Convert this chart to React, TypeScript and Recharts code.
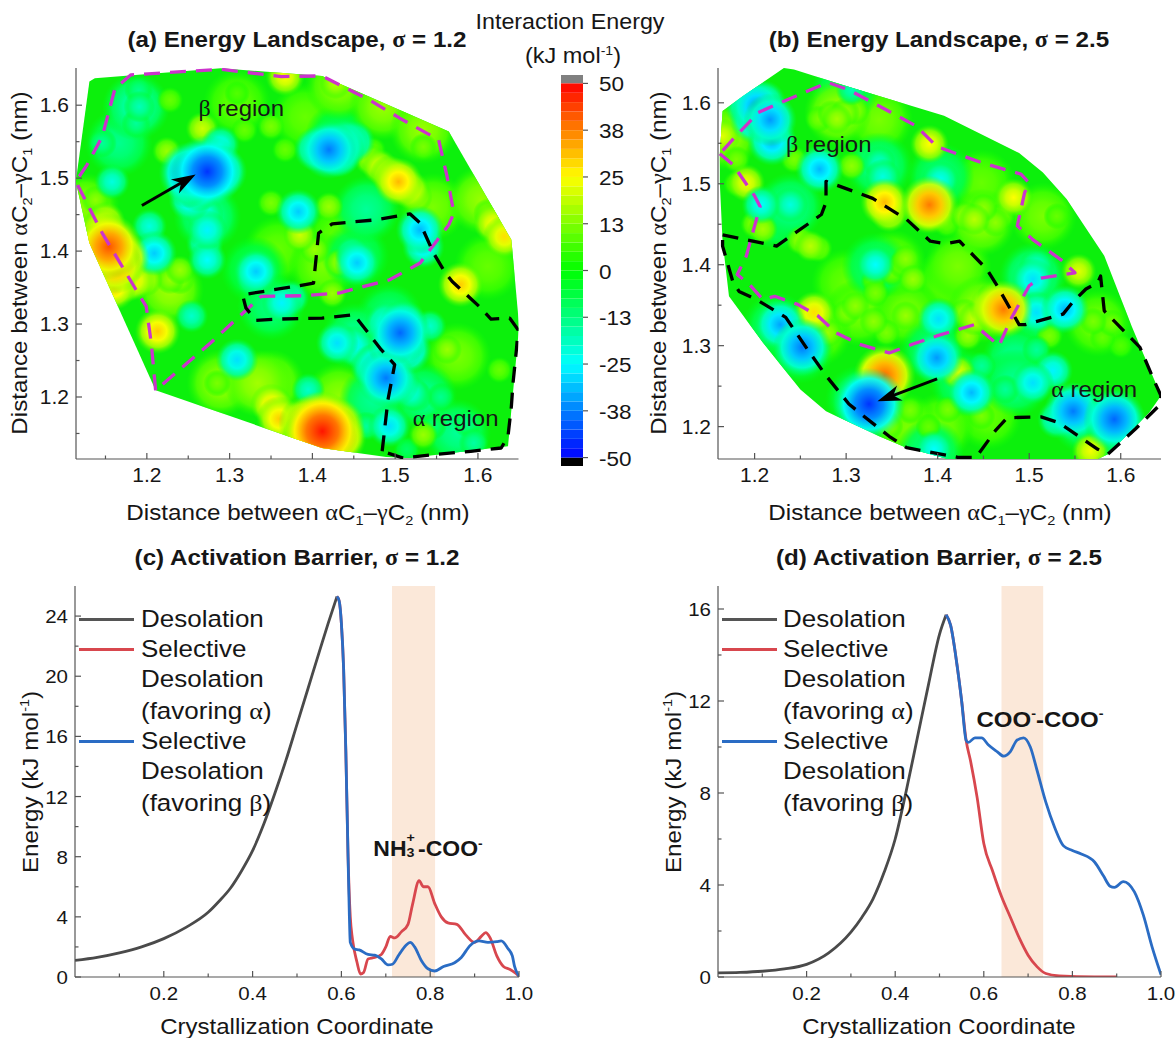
import React from 'react';
import {
  ComposedChart, ScatterChart, Scatter, Line, XAxis, YAxis, ReferenceArea, ReferenceDot,
} from 'recharts';

type P = number[];

// ---- panel (a) contour map: [x, y] or [x, y, energy]
const hullA: P[] = [[1.1306,1.6324],[1.1371,1.637],[1.2891,1.6507],[1.4116,1.6402],[1.5648,1.5639],[1.6404,1.4155],[1.6498,1.2968],[1.6363,1.1324],[1.5178,1.1164],[1.4892,1.1178],[1.4116,1.1301],[1.2106,1.2091],[1.1306,1.411],[1.1142,1.4954],[1.1306,1.6324]];
const betaPathA: P[] = [[1.2106,1.2091],[1.2053,1.274],[1.1992,1.3242],[1.1869,1.347],[1.1461,1.4247],[1.1142,1.4954],[1.1277,1.5183],[1.1461,1.5571],[1.1616,1.6233],[1.1808,1.6416],[1.2891,1.6493],[1.3626,1.6393],[1.4116,1.6402],[1.4688,1.6073],[1.5056,1.5822],[1.5525,1.5525],[1.5627,1.5023],[1.5709,1.4521],[1.5648,1.4361],[1.5301,1.3836],[1.4933,1.3607],[1.432,1.3425],[1.3871,1.3388],[1.3381,1.3379],[1.2768,1.274],[1.2278,1.226],[1.2106,1.2091]];
const alphaPathA: P[] = [[1.4843,1.1256],[1.4913,1.1963],[1.4994,1.2443],[1.4831,1.2648],[1.4504,1.3128],[1.4116,1.3082],[1.3585,1.3068],[1.3319,1.305],[1.3197,1.3219],[1.3156,1.3402],[1.3789,1.3516],[1.4014,1.3562],[1.4075,1.4247],[1.4239,1.4374],[1.477,1.4429],[1.5178,1.4511],[1.5301,1.4384],[1.5464,1.3973],[1.5607,1.3699],[1.5689,1.3584],[1.6015,1.3242],[1.6158,1.3068],[1.6383,1.3082],[1.6485,1.2922],[1.6465,1.2648],[1.6424,1.2192],[1.6404,1.1872],[1.6363,1.1461],[1.6281,1.1301],[1.5913,1.1256],[1.5464,1.121],[1.5096,1.1164],[1.4843,1.1256]];
const arrowA: P[] = [[1.194,1.4626],[1.259,1.505]];
const washA: P[] = [[1.432,1.626,14],[1.485,1.598,15],[1.534,1.566,15],[1.546,1.461,12],[1.604,1.47,15],[1.612,1.379,10],[1.334,1.219,16],[1.289,1.219,15],[1.432,1.201,14],[1.35,1.219,14],[1.126,1.461,14],[1.228,1.347,16],[1.391,1.584,10],[1.309,1.603,10],[1.412,1.379,12],[1.575,1.256,12],[1.358,1.402,10],[1.432,1.42,10],[1.187,1.598,-18],[1.166,1.548,-14],[1.273,1.447,-16],[1.465,1.457,-15],[1.534,1.201,-15],[1.473,1.196,-15],[1.575,1.151,-15],[1.452,1.283,-15],[1.493,1.31,-13],[1.35,1.324,-13],[1.33,1.374,-10],[1.452,1.393,-12],[1.432,1.557,-10]];
const wellsA: P[] = [[1.273,1.509,-45],[1.252,1.507,-40],[1.289,1.509,-35],[1.262,1.485,-30],[1.25,1.49,-30],[1.252,1.47,-28],[1.27,1.45,-24],[1.273,1.429,-26],[1.27,1.41,-24],[1.273,1.388,-25],[1.289,1.546,-25],[1.42,1.539,-38],[1.405,1.54,-30],[1.43,1.54,-36],[1.44,1.55,-30],[1.45,1.55,-28],[1.432,1.53,-28],[1.158,1.495,-22],[1.203,1.434,-22],[1.209,1.397,-30],[1.383,1.454,-30],[1.332,1.372,-30],[1.328,1.361,-22],[1.363,1.329,-26],[1.375,1.336,-22],[1.454,1.384,-30],[1.448,1.397,-22],[1.53,1.429,-32],[1.534,1.406,-28],[1.254,1.311,-20],[1.309,1.251,-28],[1.43,1.274,-28],[1.506,1.288,-40],[1.51,1.3,-32],[1.49,1.3,-30],[1.5,1.27,-36],[1.514,1.265,-33],[1.473,1.242,-30],[1.48,1.24,-34],[1.489,1.226,-38],[1.5,1.22,-32],[1.52,1.205,-22],[1.555,1.2,-14],[1.457,1.265,-25],[1.45,1.27,-26],[1.542,1.297,-20],[1.493,1.16,-28],[1.526,1.201,-18],[1.395,1.21,-20],[1.546,1.16,-12],[1.587,1.164,-14],[1.595,1.137,-16],[1.191,1.598,-18],[1.19,1.62,-14],[1.187,1.575,-15],[1.146,1.548,-15],[1.465,1.16,-15],[1.514,1.128,-10]];
const hillsA: P[] = [[1.493,1.505,25],[1.504,1.495,32],[1.518,1.484,25],[1.481,1.516,22],[1.47,1.525,18],[1.525,1.475,20],[1.154,1.406,42],[1.14,1.4,35],[1.17,1.39,36],[1.162,1.379,36],[1.16,1.35,30],[1.146,1.425,32],[1.15,1.44,26],[1.175,1.356,25],[1.185,1.36,26],[1.199,1.361,20],[1.228,1.361,15],[1.24,1.36,14],[1.412,1.153,48],[1.41,1.16,44],[1.428,1.16,38],[1.43,1.145,38],[1.379,1.164,28],[1.39,1.165,34],[1.354,1.187,25],[1.35,1.19,27],[1.36,1.17,30],[1.44,1.146,25],[1.399,1.146,38],[1.579,1.354,30],[1.213,1.29,30],[1.267,1.568,20],[1.224,1.537,15],[1.385,1.422,20],[1.403,1.402,15],[1.618,1.438,25],[1.632,1.42,28],[1.612,1.452,15],[1.367,1.639,25],[1.428,1.63,18],[1.42,1.461,15],[1.35,1.466,12],[1.285,1.219,12],[1.563,1.265,15],[1.534,1.148,15],[1.432,1.384,15],[1.24,1.374,15],[1.138,1.47,14],[1.626,1.237,10],[1.424,1.342,15],[1.35,1.571,12],[1.367,1.539,10],[1.318,1.566,10],[1.534,1.543,12],[1.595,1.539,10],[1.473,1.539,10],[1.228,1.607,10],[1.309,1.616,8]];

// ---- panel (b) contour map
const hullB: P[] = [[1.165,1.59],[1.187,1.608],[1.232,1.643],[1.243,1.641],[1.299,1.621],[1.407,1.584],[1.489,1.538],[1.515,1.514],[1.541,1.481],[1.582,1.411],[1.612,1.324],[1.644,1.238],[1.631,1.217],[1.586,1.166],[1.575,1.16],[1.411,1.16],[1.366,1.174],[1.336,1.188],[1.278,1.219],[1.25,1.246],[1.209,1.304],[1.172,1.361],[1.165,1.429],[1.162,1.501],[1.162,1.537],[1.165,1.59]];
const betaPathB: P[] = [[1.162,1.537],[1.176,1.524],[1.2,1.485],[1.206,1.472],[1.2,1.448],[1.191,1.411],[1.181,1.388],[1.194,1.376],[1.209,1.357],[1.222,1.361],[1.247,1.351],[1.269,1.337],[1.289,1.316],[1.314,1.302],[1.347,1.291],[1.373,1.302],[1.399,1.312],[1.44,1.326],[1.467,1.3],[1.48,1.333],[1.5,1.374],[1.511,1.383],[1.532,1.387],[1.55,1.39],[1.536,1.405],[1.504,1.431],[1.487,1.448],[1.495,1.489],[1.5,1.501],[1.491,1.512],[1.448,1.526],[1.399,1.546],[1.377,1.571],[1.336,1.596],[1.303,1.616],[1.28,1.625],[1.267,1.619],[1.232,1.602],[1.204,1.588],[1.178,1.557],[1.162,1.537]];
const alphaPathB: P[] = [[1.165,1.437],[1.224,1.423],[1.273,1.462],[1.278,1.477],[1.278,1.503],[1.329,1.482],[1.366,1.456],[1.392,1.429],[1.409,1.426],[1.424,1.429],[1.454,1.394],[1.465,1.374],[1.489,1.326],[1.496,1.326],[1.537,1.339],[1.547,1.353],[1.562,1.37],[1.575,1.378],[1.578,1.386],[1.582,1.343],[1.621,1.298],[1.636,1.258],[1.644,1.238],[1.642,1.226],[1.616,1.197],[1.586,1.166],[1.575,1.172],[1.532,1.205],[1.513,1.212],[1.476,1.211],[1.463,1.195],[1.442,1.162],[1.422,1.162],[1.366,1.174],[1.347,1.188],[1.317,1.215],[1.303,1.228],[1.278,1.263],[1.258,1.295],[1.234,1.335],[1.202,1.357],[1.183,1.367],[1.176,1.38],[1.165,1.423],[1.165,1.437]];
const arrowB: P[] = [[1.3994,1.2589],[1.3342,1.2312]];
const washB: P[] = [[1.291,1.588,16],[1.336,1.579,12],[1.448,1.452,14],[1.515,1.46,12],[1.314,1.341,12],[1.366,1.341,12],[1.351,1.402,12],[1.448,1.345,16],[1.575,1.328,12],[1.455,1.213,10],[1.403,1.2,12],[1.366,1.2,12],[1.448,1.501,10],[1.168,1.559,16],[1.299,1.378,10],[1.269,1.316,12],[1.422,1.398,12],[1.411,1.378,10],[1.504,1.386,-17],[1.511,1.341,-15],[1.336,1.522,-15],[1.403,1.509,-13],[1.239,1.472,-15],[1.224,1.46,-13],[1.299,1.616,-13],[1.485,1.283,-15],[1.485,1.254,-15],[1.429,1.254,-13],[1.396,1.295,-13],[1.56,1.209,-15],[1.597,1.193,-15],[1.224,1.324,-13],[1.25,1.295,-13],[1.332,1.398,-13],[1.392,1.168,-15],[1.314,1.234,-13]];
const wellsB: P[] = [[1.202,1.596,-35],[1.21,1.6,-30],[1.2,1.58,-33],[1.217,1.579,-35],[1.219,1.553,-33],[1.194,1.596,-32],[1.271,1.518,-32],[1.336,1.526,-20],[1.34,1.509,-22],[1.403,1.505,-24],[1.207,1.474,-25],[1.239,1.474,-22],[1.332,1.4,-25],[1.508,1.398,-22],[1.504,1.382,-28],[1.508,1.341,-28],[1.539,1.345,-32],[1.401,1.333,-28],[1.228,1.326,-34],[1.252,1.298,-38],[1.399,1.285,-35],[1.325,1.228,-45],[1.437,1.242,-32],[1.504,1.254,-28],[1.526,1.269,-26],[1.548,1.219,-38],[1.593,1.209,-40],[1.53,1.209,-25],[1.396,1.172,-25],[1.474,1.246,-15],[1.306,1.616,-18],[1.448,1.275,-15],[1.508,1.295,-15]];
const hillsB: P[] = [[1.342,1.477,32],[1.347,1.464,25],[1.391,1.474,38],[1.39,1.464,25],[1.483,1.483,25],[1.472,1.345,38],[1.459,1.347,30],[1.342,1.263,40],[1.333,1.267,25],[1.265,1.341,28],[1.191,1.501,24],[1.391,1.549,25],[1.554,1.392,22],[1.567,1.17,24],[1.165,1.559,22],[1.422,1.267,22],[1.299,1.588,15],[1.284,1.586,14],[1.261,1.423,18],[1.44,1.456,18],[1.463,1.452,14],[1.306,1.522,14],[1.243,1.53,12],[1.209,1.444,16],[1.365,1.337,15],[1.31,1.349,14],[1.44,1.333,20],[1.433,1.312,15],[1.373,1.382,15],[1.365,1.407,14],[1.332,1.365,12],[1.448,1.213,12],[1.59,1.328,12],[1.522,1.312,12],[1.28,1.316,15],[1.347,1.201,14],[1.411,1.221,12],[1.53,1.46,10],[1.344,1.316,12],[1.29,1.58,16],[1.31,1.59,14],[1.27,1.58,12],[1.43,1.46,16],[1.45,1.47,14],[1.47,1.46,12],[1.41,1.45,10],[1.25,1.43,15],[1.27,1.42,13],[1.36,1.4,12],[1.35,1.39,11],[1.33,1.38,10],[1.33,1.33,14],[1.3,1.34,13],[1.43,1.34,16],[1.45,1.33,15],[1.46,1.36,18],[1.37,1.22,12],[1.39,1.2,10],[1.57,1.33,12],[1.58,1.31,10],[1.6,1.3,8],[1.2,1.45,14],[1.18,1.53,12],[1.18,1.5,10]];

// ---- panels (c) and (d) barrier curves: [coordinate, energy]
const desolationC: P[] = [[0,1.1],[0.05,1.3],[0.1,1.6],[0.15,2],[0.2,2.55],[0.25,3.3],[0.3,4.3],[0.325,5.05],[0.35,5.9],[0.375,7.05],[0.4,8.4],[0.425,10.15],[0.45,12.2],[0.475,14.4],[0.5,16.8],[0.525,19.2],[0.55,21.6],[0.57,23.5],[0.59,25.3]];
const alphaC: P[] = [[0.59,25.3],[0.595,25],[0.6,23.5],[0.605,20.5],[0.61,15],[0.615,8],[0.62,4],[0.625,2.5],[0.635,1],[0.643,0.2],[0.65,0.3],[0.66,1.2],[0.675,1.3],[0.69,1.5],[0.7,2],[0.71,2.7],[0.72,2.6],[0.735,3],[0.75,3.5],[0.76,4.8],[0.775,6.4],[0.785,6],[0.795,6],[0.81,4.9],[0.825,4],[0.84,3.6],[0.86,3.5],[0.88,2.8],[0.9,2.3],[0.915,2.7],[0.925,2.95],[0.935,2.6],[0.95,1.4],[0.965,0.7],[0.98,0.5],[0.99,0.3],[1,0.05]];
const betaC: P[] = [[0.59,25.3],[0.595,25],[0.6,23.5],[0.605,20.5],[0.61,15],[0.615,8],[0.618,4],[0.62,2.3],[0.63,1.85],[0.64,1.8],[0.66,1.5],[0.675,1.45],[0.69,1.2],[0.705,0.8],[0.715,0.85],[0.73,1.5],[0.745,2.1],[0.755,2.3],[0.765,2],[0.78,1.1],[0.795,0.55],[0.81,0.4],[0.83,0.7],[0.855,0.95],[0.87,1.3],[0.89,2.1],[0.91,2.4],[0.93,2.3],[0.95,2.35],[0.96,2.4],[0.975,1.9],[0.985,1.4],[0.99,0.7],[1,0.05]];
const desolationD: P[] = [[0,0.18],[0.05,0.2],[0.1,0.25],[0.15,0.35],[0.2,0.55],[0.25,1.05],[0.3,1.95],[0.325,2.6],[0.35,3.4],[0.375,4.55],[0.4,6],[0.425,8.1],[0.45,10.4],[0.475,12.7],[0.5,14.9],[0.515,15.75]];
const alphaD: P[] = [[0.515,15.75],[0.525,15.3],[0.54,13.5],[0.55,12],[0.56,10.3],[0.57,9.4],[0.585,7.8],[0.6,5.8],[0.62,4.6],[0.64,3.5],[0.66,2.6],[0.68,1.7],[0.7,0.95],[0.72,0.45],[0.74,0.15],[0.77,0.05],[0.85,0],[0.9,0]];
const betaD: P[] = [[0.515,15.75],[0.525,15.3],[0.54,13.5],[0.55,12],[0.56,10.3],[0.565,10.2],[0.58,10.4],[0.595,10.4],[0.61,10.1],[0.63,9.8],[0.645,9.6],[0.66,9.8],[0.675,10.3],[0.69,10.4],[0.705,10],[0.72,9],[0.74,7.6],[0.76,6.5],[0.78,5.7],[0.8,5.5],[0.82,5.35],[0.85,5],[0.87,4.4],[0.885,3.95],[0.895,3.9],[0.915,4.15],[0.94,3.7],[0.96,2.7],[0.98,1.3],[1,0.1]];

const bandC = [0.714, 0.811];
const bandD = [0.64, 0.734];

// ---- ticks
const mapTicksAX = [1.15, 1.2, 1.25, 1.3, 1.35, 1.4, 1.45, 1.5, 1.55, 1.6];
const mapTicksBX = [1.2, 1.25, 1.3, 1.35, 1.4, 1.45, 1.5, 1.55, 1.6];
const mapTicksAY = [1.15, 1.2, 1.25, 1.3, 1.35, 1.4, 1.45, 1.5, 1.55, 1.6];
const mapTicksBY = [1.2, 1.25, 1.3, 1.35, 1.4, 1.45, 1.5, 1.55, 1.6];
const coordTicks = [0.1, 0.2, 0.3, 0.4, 0.5, 0.6, 0.7, 0.8, 0.9, 1];
const energyTicksC = [0, 2, 4, 6, 8, 10, 12, 14, 16, 18, 20, 22, 24];
const energyTicksD = [0, 2, 4, 6, 8, 10, 12, 14, 16];
const colorTicks = [-50, -37.5, -25, -12.5, 0, 12.5, 25, 37.5, 50];
const colorLabels = ['-50', '-38', '-25', '-13', '0', '13', '25', '38', '50'];
const colorLevels = [-50,-47.5,-45,-42.5,-40,-37.5,-35,-32.5,-30,-27.5,-25,-22.5,-20,-17.5,-15,-12.5,-10,-7.5,-5,-2.5,0,2.5,5,7.5,10,12.5,15,17.5,20,22.5,25,27.5,30,32.5,35,37.5,40,42.5,45,47.5];
const colorRange = [{ x: 0, y: -50 }, { x: 1, y: 50 }];

const FONT = '"Liberation Sans", Arial, sans-serif';
const FRAME = '#555555';
const TEXT = '#161616';
const MAGENTA = '#cc33cc';
const STRETCH = 1.08; // the source image is slightly wider than tall

const anchors: [number, number[]][] = [
  [-50, [0, 0, 255]], [-25, [0, 255, 255]], [0, [0, 255, 0]], [25, [255, 255, 0]], [50, [255, 0, 0]],
];
function energyColor(e: number) {
  const v = Math.max(-50, Math.min(50, e));
  for (let i = 0; i < anchors.length - 1; i++) {
    const [a, ca] = anchors[i];
    const [b, cb] = anchors[i + 1];
    if (v <= b) {
      const t = (v - a) / (b - a);
      return `rgb(${ca.map((c, k) => Math.round(c + (cb[k] - c) * t)).join(',')})`;
    }
  }
  return 'rgb(255,0,0)';
}

const toXY = (pts: P[]) => pts.map(([x, y]) => ({ x, y }));
const toBlobs = (pts: P[]) =>
  pts.map(([x, y, e]) => ({ x, y, e })).sort((a, b) => Math.abs(a.e) - Math.abs(b.e));

const Greek = ({ children }: any) => <span style={{ fontFamily: '"Liberation Serif", serif' }}>{children}</span>;
const Sub = ({ children }: any) => <sub style={{ fontSize: '.6em', lineHeight: 0 }}>{children}</sub>;
const Sup = ({ children }: any) => <sup style={{ fontSize: '.6em', lineHeight: 0 }}>{children}</sup>;

function Label({ x, y, size = 24, bold, rotate, align = 'center', children }: any) {
  const tx = align === 'center' ? '-50%' : '0';
  return (
    <div
      style={{
        position: 'absolute', left: x, top: y, fontSize: size / STRETCH, fontFamily: FONT, color: TEXT,
        fontWeight: bold ? 700 : 400, whiteSpace: 'nowrap', lineHeight: 1.2, transformOrigin: align === 'center' ? '50% 50%' : '0 50%',
        transform: `translate(${tx},-50%)${rotate ? ' rotate(-90deg)' : ''} scaleX(${STRETCH})`,
      }}
    >
      {children}
    </div>
  );
}

const TickText = ({ x, y, anchor, size, children }: any) => (
  <text transform={`translate(${x},${y}) scale(${STRETCH},1)`} textAnchor={anchor} fontSize={size / STRETCH} fontFamily={FONT} fill={TEXT}>
    {children}
  </text>
);

// tick drawn by hand so majors and minors can differ; all marks point inward
const makeTick = (side: string, isMajor: (v: number) => boolean, fmt?: (v: number) => string, size = 21) =>
  (props: any) => {
    const { x, y, payload } = props;
    const major = isMajor(payload.value);
    const len = major ? 6 : 3.5;
    const dx = side === 'left' ? len : side === 'right' ? -len : 0;
    const dy = side === 'bottom' ? -len : side === 'top' ? len : 0;
    return (
      <g>
        <line x1={x} y1={y} x2={x + dx} y2={y + dy} stroke={FRAME} strokeWidth={1.2} />
        {major && fmt && side === 'bottom' && <TickText x={x} y={y + 23} anchor="middle" size={size}>{fmt(payload.value)}</TickText>}
        {major && fmt && side === 'left' && <TickText x={x - 7} y={y + size * 0.34} anchor="end" size={size}>{fmt(payload.value)}</TickText>}
      </g>
    );
  };

const LEFT_GUTTER = 62;
const BOTTOM_GUTTER = 36;
const TOP_PAD = 6;
const RIGHT_PAD = 30;

const shapeNone = () => <g />;

function dashLine(color: string) {
  return (props: any) => {
    const d = props.points.map((p: any, i: number) => `${i ? 'L' : 'M'}${p.x},${p.y}`).join(' ');
    return <path d={d} fill="none" stroke={color} strokeWidth={3.3} strokeDasharray="16 10" strokeLinejoin="round" />;
  };
}

const arrowLine = (props: any) => {
  const [a, b] = props.points;
  const ang = Math.atan2(b.y - a.y, b.x - a.x);
  const at = (back: number, side: number) =>
    `${b.x - back * Math.cos(ang) - side * Math.sin(ang)},${b.y - back * Math.sin(ang) + side * Math.cos(ang)}`;
  return (
    <g>
      <line x1={a.x} y1={a.y} x2={at(10, 0).split(',')[0]} y2={at(10, 0).split(',')[1]} stroke="#000" strokeWidth={3} />
      <polygon points={`${b.x},${b.y} ${at(24, 8)} ${at(17, 0)} ${at(24, -8)}`} fill="#000" />
    </g>
  );
};

function MapPanel({ id, frame, xDomain, yDomain, xTicks, yTicks, hull, betaPath, alphaPath, arrow, wash, wells, hills, beta, alpha }: any) {
  const [l, t, r, b] = frame;
  const blobs = toBlobs([...hills, ...wells]);
  const hullLine = (props: any) => {
    const pts = props.points.map((p: any) => `${p.x},${p.y}`).join(' ');
    return (
      <g>
        <defs><clipPath id={`hull-${id}`}><polygon points={pts} /></clipPath></defs>
        <polygon points={pts} fill="#0cf00c" />
      </g>
    );
  };
  const blobShape = (radius: (e: number) => number, tag: string) => (props: any) => {
    const { cx, cy, payload } = props;
    const e = payload.e;
    const gid = `g-${id}-${tag}-${String(e).replace('-', 'm')}`;
    return (
      <g clipPath={`url(#hull-${id})`}>
        <defs>
          <radialGradient id={gid}>
            <stop offset="0%" stopColor={energyColor(e)} />
            <stop offset="40%" stopColor={energyColor(e * 0.8)} />
            <stop offset="70%" stopColor={energyColor(e * 0.55)} stopOpacity={0.9} />
            <stop offset="100%" stopColor={energyColor(e * 0.2)} stopOpacity={0} />
          </radialGradient>
        </defs>
        <circle cx={cx} cy={cy} r={radius(e)} fill={`url(#${gid})`} />
      </g>
    );
  };
  const regionText = (g: string) => (props: any) => (
    <TickText x={props.cx} y={props.cy + 8} anchor="middle" size={24}>
      <tspan fontFamily='"Liberation Serif", serif'>{g}</tspan> region
    </TickText>
  );
  return (
    <div style={{ position: 'absolute', left: l - LEFT_GUTTER, top: t - TOP_PAD }}>
      <ScatterChart
        width={r - l + LEFT_GUTTER + RIGHT_PAD}
        height={b - t + BOTTOM_GUTTER + TOP_PAD}
        margin={{ top: TOP_PAD, right: RIGHT_PAD, left: 0, bottom: 0 }}
      >
        <XAxis dataKey="x" type="number" domain={xDomain} allowDataOverflow ticks={xTicks} interval={0} height={BOTTOM_GUTTER}
          tickSize={0} tickMargin={0} tickLine={false} axisLine={{ stroke: FRAME, strokeWidth: 1.2 }}
          tick={makeTick('bottom', (v) => Math.round(v * 100) % 10 === 0, (v) => v.toFixed(1))} />
        <YAxis dataKey="y" type="number" domain={yDomain} allowDataOverflow ticks={yTicks} interval={0} width={LEFT_GUTTER}
          tickSize={0} tickMargin={0} tickLine={false} axisLine={{ stroke: FRAME, strokeWidth: 1.2 }}
          tick={makeTick('left', (v) => Math.round(v * 100) % 10 === 0, (v) => v.toFixed(1))} />
        <XAxis xAxisId="top" orientation="top" type="number" domain={xDomain} height={0} tick={false} tickLine={false} axisLine={{ stroke: FRAME, strokeWidth: 1.2 }} />
        <YAxis yAxisId="right" orientation="right" type="number" domain={yDomain} width={0} tick={false} tickLine={false} axisLine={{ stroke: FRAME, strokeWidth: 1.2 }} />
        <Scatter data={toXY(hull)} line={hullLine} shape={shapeNone} isAnimationActive={false} />
        <Scatter data={toBlobs(wash)} shape={blobShape(() => 34, 'w')} isAnimationActive={false} />
        <Scatter data={blobs} shape={blobShape((e) => 12 + 0.012 * e * e, 'b')} isAnimationActive={false} />
        <Scatter data={toXY(betaPath)} line={dashLine(MAGENTA)} shape={shapeNone} isAnimationActive={false} />
        <Scatter data={toXY(alphaPath)} line={dashLine('#000')} shape={shapeNone} isAnimationActive={false} />
        <Scatter data={toXY(arrow)} line={arrowLine} shape={shapeNone} isAnimationActive={false} />
        <ReferenceDot x={beta[0]} y={beta[1]} r={0} shape={regionText('β')} />
        <ReferenceDot x={alpha[0]} y={alpha[1]} r={0} shape={regionText('α')} />
      </ScatterChart>
    </div>
  );
}

function BarrierPanel({ frame, yMax, yTicks, desolation, alpha, beta, band }: any) {
  const [l, t, r, b] = frame;
  const majorX = (v: number) => Math.round(v * 10) % 2 === 0;
  const majorY = (v: number) => v % 4 === 0;
  return (
    <div style={{ position: 'absolute', left: l - LEFT_GUTTER, top: t - TOP_PAD }}>
      <ComposedChart
        width={r - l + LEFT_GUTTER + RIGHT_PAD}
        height={b - t + BOTTOM_GUTTER + TOP_PAD}
        margin={{ top: TOP_PAD, right: RIGHT_PAD, left: 0, bottom: 0 }}
      >
        <XAxis dataKey="x" type="number" domain={[0, 1]} allowDataOverflow ticks={coordTicks} interval={0} height={BOTTOM_GUTTER}
          tickSize={0} tickMargin={0} tickLine={false} axisLine={{ stroke: FRAME, strokeWidth: 1.2 }}
          tick={makeTick('bottom', majorX, (v) => v.toFixed(1), 20.5)} />
        <YAxis type="number" domain={[0, yMax]} allowDataOverflow ticks={yTicks} interval={0} width={LEFT_GUTTER}
          tickSize={0} tickMargin={0} tickLine={false} axisLine={{ stroke: FRAME, strokeWidth: 1.2 }}
          tick={makeTick('left', majorY, (v) => String(v), 20.5)} />
        <XAxis xAxisId="top" orientation="top" type="number" domain={[0, 1]} ticks={coordTicks} interval={0} height={0}
          tickSize={0} tickMargin={0} tickLine={false} axisLine={{ stroke: FRAME, strokeWidth: 1.2 }}
          tick={makeTick('top', majorX)} />
        <YAxis yAxisId="right" orientation="right" type="number" domain={[0, yMax]} ticks={yTicks} interval={0} width={0}
          tickSize={0} tickMargin={0} tickLine={false} axisLine={{ stroke: FRAME, strokeWidth: 1.2 }}
          tick={makeTick('right', majorY)} />
        <Line data={toXY(desolation)} dataKey="y" type="monotone" stroke="#4a4a4a" strokeWidth={2.8} dot={false} isAnimationActive={false} />
        <Line data={toXY(alpha)} dataKey="y" type="monotone" stroke="#d8474e" strokeWidth={2.8} dot={false} isAnimationActive={false} />
        <Line data={toXY(beta)} dataKey="y" type="monotone" stroke="#2a6cc4" strokeWidth={2.8} dot={false} isAnimationActive={false} />
        <ReferenceArea x1={band[0]} x2={band[1]} y1={0} y2={yMax} fill="#fadfcb" fillOpacity={0.72} stroke="none" />
      </ComposedChart>
    </div>
  );
}

function ColorBar() {
  const tickFn = (props: any) => {
    const { x, y, payload } = props;
    const i = colorTicks.indexOf(payload.value);
    return (
      <g>
        <line x1={x} y1={y} x2={x + 5} y2={y} stroke={FRAME} strokeWidth={1.2} />
        <TickText x={x + 16} y={y + 8} anchor="start" size={22.5}>{colorLabels[i]}</TickText>
      </g>
    );
  };
  return (
    <div style={{ position: 'absolute', left: 561, top: 74.7 - 14 }}>
      <ComposedChart width={22 + 80} height={391 + 28} margin={{ top: 14, right: 0, left: 0, bottom: 14 }}>
        <XAxis dataKey="x" type="number" domain={[0, 1]} allowDataOverflow hide />
        <YAxis orientation="right" type="number" domain={[-52.25, 52.25]} allowDataOverflow ticks={colorTicks} interval={0} width={80}
          tickSize={0} tickMargin={0} tickLine={false} axisLine={false} tick={tickFn} />
        <Line data={colorRange} dataKey="y" stroke="none" dot={false} isAnimationActive={false} />
        <ReferenceArea x1={0} x2={1} y1={-52.25} y2={-50} fill="#000" stroke="none" fillOpacity={1} />
        <ReferenceArea x1={0} x2={1} y1={50} y2={52.25} fill="#808080" stroke="none" fillOpacity={1} />
        {colorLevels.map((lv) => (
          <ReferenceArea key={lv} x1={0} x2={1} y1={lv} y2={lv + 2.5} fill={energyColor(lv + 1.25)} stroke="none" fillOpacity={1} />
        ))}
      </ComposedChart>
    </div>
  );
}

function Legend({ x, sx }: { x: number; sx: number }) {
  const rows: [number, string | null, any][] = [
    [619, '#555555', 'Desolation'],
    [649, '#d8474e', 'Selective'],
    [679, null, 'Desolation'],
    [711, null, <>(favoring <Greek>α</Greek>)</>],
    [741, '#2a6cc4', 'Selective'],
    [771, null, 'Desolation'],
    [803, null, <>(favoring <Greek>β</Greek>)</>],
  ];
  return (
    <>
      {rows.map(([y, c, txt], i) => (
        <React.Fragment key={i}>
          {c && <div style={{ position: 'absolute', left: sx, top: y - 1.5, width: 55, height: 3, background: c }} />}
          <Label x={x} y={y} size={26} align="left">{txt}</Label>
        </React.Fragment>
      ))}
    </>
  );
}

const mapTitle = (
  <>Distance between <Greek>α</Greek>C<Sub>1</Sub>–<Greek>γ</Greek>C<Sub>2</Sub> (nm)</>
);
const mapTitleY = (
  <>Distance between <Greek>α</Greek>C<Sub>2</Sub>–<Greek>γ</Greek>C<Sub>1</Sub> (nm)</>
);
const energyTitle = <>Energy (kJ mol<Sup>-1</Sup>)</>;

export default function App() {
  const frameA = [75.5, 68, 518, 459];
  const frameB = [718, 68, 1161, 459];
  const frameC = [75, 586, 519, 977];
  const frameD = [718, 586, 1161, 977];
  return (
    <div style={{ position: 'absolute', left: 0, top: 0, width: 1176, height: 1038, background: '#fff', overflow: 'hidden' }}>
      <MapPanel id="a" frame={frameA} xDomain={[1.1144, 1.649]} yDomain={[1.115, 1.651]} xTicks={mapTicksAX} yTicks={mapTicksAY}
        hull={hullA} betaPath={betaPathA} alphaPath={alphaPathA} arrow={arrowA} wash={washA} wells={wellsA} hills={hillsA}
        beta={[1.314, 1.596]} alpha={[1.573, 1.171]} />
      <MapPanel id="b" frame={frameB} xDomain={[1.16, 1.644]} yDomain={[1.16, 1.643]} xTicks={mapTicksBX} yTicks={mapTicksBY}
        hull={hullB} betaPath={betaPathB} alphaPath={alphaPathB} arrow={arrowB} wash={washB} wells={wellsB} hills={hillsB}
        beta={[1.281, 1.549]} alpha={[1.571, 1.246]} />
      <ColorBar />
      <BarrierPanel frame={frameC} yMax={26} yTicks={energyTicksC} desolation={desolationC} alpha={alphaC} beta={betaC} band={bandC} />
      <BarrierPanel frame={frameD} yMax={17} yTicks={energyTicksD} desolation={desolationD} alpha={alphaD} beta={betaD} band={bandD} />

      <Label x={296.5} y={40} size={24.2} bold>(a) Energy Landscape, <Greek>σ</Greek> = 1.2</Label>
      <Label x={939} y={40} size={24.2} bold>(b) Energy Landscape, <Greek>σ</Greek> = 2.5</Label>
      <Label x={297} y={558} size={24.2} bold>(c) Activation Barrier, <Greek>σ</Greek> = 1.2</Label>
      <Label x={939} y={558} size={24.2} bold>(d) Activation Barrier, <Greek>σ</Greek> = 2.5</Label>
      <Label x={570} y={22} size={23.3}>Interaction Energy</Label>
      <Label x={573} y={56} size={23.5}>(kJ mol<Sup>-1</Sup>)</Label>

      <Label x={297.5} y={513} size={24.2}>{mapTitle}</Label>
      <Label x={940} y={513} size={24.2}>{mapTitle}</Label>
      <Label x={20} y={263} size={24.2} rotate>{mapTitleY}</Label>
      <Label x={659} y={263} size={24.2} rotate>{mapTitleY}</Label>
      <Label x={297} y={1027} size={24}>Crystallization Coordinate</Label>
      <Label x={939} y={1027} size={24}>Crystallization Coordinate</Label>
      <Label x={31} y={782} size={24.2} rotate>{energyTitle}</Label>
      <Label x={674} y={782} size={24.2} rotate>{energyTitle}</Label>

      <Legend x={141} sx={79} />
      <Legend x={783} sx={722} />

      <Label x={428} y={849} size={23} bold>
        NH
        <span style={{ position: 'relative', display: 'inline-block', width: '.5em', height: '1em' }}>
          <span style={{ position: 'absolute', left: 0, top: '-.35em', fontSize: '.62em' }}>+</span>
          <span style={{ position: 'absolute', left: 0, top: '.75em', fontSize: '.62em' }}>3</span>
        </span>
        -COO<Sup>-</Sup>
      </Label>
      <Label x={1040} y={720} size={24} bold>COO<Sup>-</Sup>-COO<Sup>-</Sup></Label>
    </div>
  );
}
